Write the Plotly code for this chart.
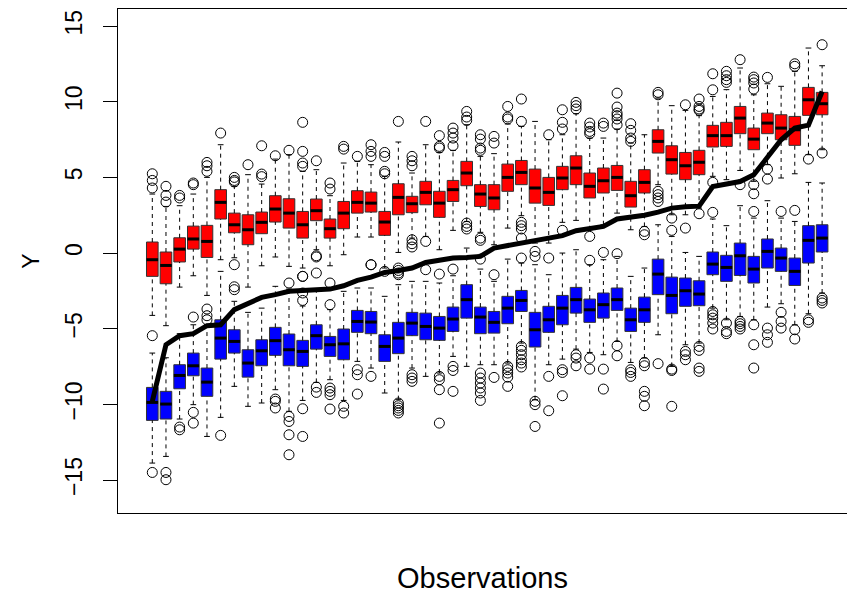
import plotly.graph_objects as go

# Sorted observed values (thick black line), one per observation
observed = [-9.80, -6.06, -5.46, -5.33, -4.80, -4.74, -3.74, -3.30, -2.93, -2.75,
            -2.53, -2.47, -2.42, -2.38, -2.16, -1.81, -1.59, -1.28, -1.15, -0.99,
            -0.62, -0.44, -0.33, -0.29, -0.22, 0.33, 0.48, 0.62, 0.77, 0.99,
            1.15, 1.48, 1.59, 1.76, 2.25, 2.36, 2.50, 2.70, 2.97, 3.06,
            3.10, 4.40, 4.56, 4.73, 5.17, 6.28, 7.49, 8.26, 8.45, 10.68]

# Upper (red) boxplots: whisker ends, quartiles, medians, outliers
red_lo = [-4.12, -4.80, -2.25, -1.50, -2.80, -0.44, -0.31, -2.25, -0.84, -0.26,
          -0.88, -0.99, 0.22, -0.84, -0.11, 1.06, 1.06, -0.99, 0.04, 0.99,
          1.10, 0.22, 1.50, 2.09, 1.37, 0.55, 1.65, 2.47, 0.66, 0.66,
          2.03, 2.16, 1.54, 1.87, 2.64, 1.54, 1.76, 4.52, 2.53, 2.53,
          2.97, 5.07, 4.85, 5.46, 4.74, 5.84, 4.96, 5.24, 6.50, 6.83]
red_q1 = [-1.54, -2.03, -0.59, 0.26, -0.29, 2.25, 1.34, 0.55, 1.28, 2.05,
          1.65, 0.99, 2.14, 0.99, 1.61, 2.64, 2.71, 1.17, 2.53, 2.67,
          3.19, 2.36, 3.41, 4.45, 3.08, 2.86, 4.08, 4.52, 3.30, 3.15,
          4.19, 4.52, 3.64, 3.97, 4.14, 3.04, 3.97, 6.61, 5.22, 4.85,
          5.18, 7.01, 7.05, 7.89, 6.83, 7.89, 7.49, 7.12, 9.10, 9.14]
red_med = [-0.44, -0.82, 0.26, 0.93, 0.77, 3.35, 1.87, 1.54, 2.03, 2.91,
           2.64, 1.87, 2.80, 1.61, 2.64, 3.35, 3.30, 2.05, 3.68, 3.26,
           4.01, 3.30, 4.19, 5.29, 3.90, 3.64, 5.00, 5.33, 4.30, 4.01,
           4.96, 5.62, 4.41, 4.78, 5.00, 3.79, 4.67, 7.38, 6.17, 5.77,
           6.00, 7.76, 7.76, 8.92, 7.53, 8.59, 8.26, 8.15, 10.13, 9.87]
red_q3 = [0.73, 0.07, 1.01, 1.78, 1.83, 4.19, 2.64, 2.53, 2.71, 3.79,
          3.59, 2.75, 3.57, 2.25, 3.41, 4.12, 4.03, 2.75, 4.58, 3.75,
          4.74, 4.08, 4.80, 6.06, 4.52, 4.52, 5.88, 6.12, 5.55, 5.00,
          5.73, 6.43, 5.29, 5.62, 5.79, 4.74, 5.51, 8.15, 7.09, 6.65,
          6.79, 8.44, 8.64, 9.69, 8.26, 9.25, 9.14, 9.03, 10.95, 10.62]
red_hi = [3.90, 3.08, 3.13, 3.90, 5.00, 7.16, 4.41, 5.18, 4.56, 6.21,
          6.50, 5.40, 5.51, 3.79, 5.95, 6.06, 5.84, 5.07, 7.34, 5.29,
          7.16, 6.65, 6.79, 8.48, 6.39, 6.57, 8.53, 8.37, 8.70, 7.49,
          7.82, 9.21, 7.60, 7.60, 8.20, 7.27, 7.82, 10.24, 9.74, 9.43,
          9.08, 10.35, 10.80, 12.23, 10.46, 11.19, 11.02, 12.01, 13.55, 12.38]
red_out = [[4.30, 4.80, 5.24], [3.37, 3.81, 4.41], [3.64, 3.81], [4.52, 4.63],
           [5.40, 5.77, 5.99], [7.93], [-0.77, 4.70, 4.80, 5.00], [5.84],
           [5.05, 5.22, 7.09], [6.43], [6.79], [-1.54, 5.73, 5.95, 6.72, 8.64],
           [-1.32, -0.26, -0.18, 6.10], [-1.98, 4.23, 4.63], [6.87, 7.05], [6.39],
           [-0.77, 6.39, 6.72, 7.16], [-1.21, 5.24, 5.40, 6.39, 6.65],
           [-1.43, -1.15, 8.70], [0.40, 0.62, 0.88, 5.77, 6.10, 6.39], [0.77, 8.70],
           [6.94, 7.05, 7.76], [7.09, 7.60, 7.93, 8.26], [8.77, 8.99, 9.36],
           [0.84, 0.99, 6.79, 6.94, 7.53, 7.82], [7.27, 7.71], [8.86, 8.99, 9.69],
           [0.99, 1.59, 1.81, 2.03, 8.70, 10.18], [], [7.82], [1.50, 8.20, 8.64, 9.47],
           [9.52, 9.74, 9.96], [1.10, 7.89, 8.04, 8.33, 8.59], [8.37, 8.59],
           [8.48, 8.86, 9.08, 9.25, 9.65, 10.57], [7.38, 7.60, 8.11, 8.55], [1.21, 1.43],
           [3.41, 3.64, 3.86, 4.08, 10.46, 10.62], [2.31], [1.65, 9.80],
           [2.60, 9.43, 9.52, 9.69, 10.18], [4.67, 10.79, 11.85],
           [11.28, 11.46, 11.72, 12.01], [4.52, 12.78],
           [3.92, 4.52, 10.84, 11.24, 11.46, 11.63], [4.89, 5.55, 11.61], [],
           [12.34, 12.51], [6.21], [6.61, 13.77]]

# Lower (blue) boxplots
blue_lo = [-13.88, -13.44, -10.97, -10.02, -12.12, -10.86, -8.81, -10.13, -9.91, -9.03,
           -10.46, -9.74, -8.55, -8.37, -9.74, -7.16, -7.60, -9.25, -9.69, -7.60,
           -8.15, -7.93, -6.83, -7.49, -7.38, -7.38, -7.27, -5.95, -9.69, -7.38,
           -7.01, -6.35, -6.57, -6.72, -5.84, -7.23, -6.94, -5.40, -7.49, -6.06,
           -5.95, -3.64, -4.41, -4.19, -4.41, -3.57, -3.35, -4.74, -4.01, -2.64]
blue_q1 = [-11.06, -10.97, -8.97, -8.11, -9.47, -7.01, -6.61, -8.20, -7.45, -6.76,
           -7.45, -7.49, -6.35, -6.83, -7.05, -5.24, -5.33, -7.16, -6.65, -5.46,
           -5.73, -5.77, -5.18, -4.30, -5.33, -5.29, -4.67, -3.86, -6.21, -5.24,
           -4.74, -3.97, -4.58, -4.30, -3.79, -5.18, -4.58, -2.75, -4.01, -3.52,
           -3.48, -1.43, -1.87, -1.48, -1.98, -0.99, -1.21, -2.14, -0.66, 0.07]
blue_med = [-9.87, -9.98, -8.09, -7.45, -8.53, -5.62, -5.84, -7.27, -6.46, -5.79,
            -6.39, -6.50, -5.46, -6.06, -6.00, -4.52, -4.56, -6.17, -5.62, -4.63,
            -4.85, -4.96, -4.36, -3.08, -4.23, -4.58, -3.64, -3.13, -5.07, -4.41,
            -3.64, -3.08, -3.75, -3.41, -3.08, -4.41, -3.75, -1.39, -2.80, -2.49,
            -2.71, -0.73, -0.95, -0.18, -1.06, 0.11, -0.33, -1.21, 0.84, 0.99]
blue_q3 = [-8.88, -9.14, -7.38, -6.61, -7.60, -4.41, -5.07, -6.39, -5.73, -4.91,
           -5.35, -5.77, -4.74, -5.51, -5.02, -3.79, -3.86, -5.40, -4.58, -3.92,
           -3.97, -4.19, -3.57, -2.09, -3.57, -3.86, -2.86, -2.47, -3.92, -3.52,
           -2.80, -2.27, -3.04, -2.64, -2.31, -3.64, -2.91, -0.40, -1.59, -1.65,
           -1.83, 0.07, -0.15, 0.66, -0.22, 0.93, 0.33, -0.33, 1.81, 1.87]
blue_hi = [-6.61, -6.92, -5.33, -4.74, -4.74, -1.21, -3.19, -3.92, -3.64, -2.20,
           -2.38, -3.50, -2.50, -3.74, -2.53, -2.31, -2.31, -2.86, -2.09, -1.87,
           -1.87, -1.98, -1.50, 0.33, -1.06, -1.87, -0.40, -0.66, -0.77, -1.43,
           0.00, 0.22, -0.77, -0.44, -0.22, -1.54, -0.99, 1.87, 1.10, 0.04,
           -0.22, 2.25, 1.81, 3.13, 2.31, 3.46, 2.31, 2.09, 4.67, 4.63]
blue_out = [[-14.50, -5.46], [-14.98, -14.50], [-11.68, -11.50], [-11.24, -10.53, -4.23],
            [-4.41, -4.14, -3.70], [-12.05], [-2.42, -2.23], [], [],
            [-10.24, -9.80, -9.65], [-13.33, -12.01, -11.13, -10.80, -1.98],
            [-12.12, -10.29, -3.13, -2.64, -1.54], [-9.21, -8.86],
            [-10.31, -9.36, -9.14, -8.92, -3.41], [-10.57, -10.13], [-9.32, -8.04, -7.71],
            [-8.15, -0.77], [], [-10.57, -10.40, -10.24, -10.09, -9.91, -1.32, -0.99],
            [-8.48, -8.26, -8.04], [-1.10], [-11.24, -9.03, -8.37, -8.15, -1.39],
            [-9.14, -7.76, -7.49, -1.06], [1.59, 1.76, 1.98],
            [-9.74, -9.25, -8.92, -8.59, -8.26, -7.93, -0.40], [-8.22, -1.43],
            [-8.81, -8.20, -7.93, -7.71, -7.49],
            [-7.53, -7.27, -7.05, -6.72, -6.43, -6.17, -0.33],
            [-11.46, -10.02, -9.80, -0.22, 0.11], [-10.42, -8.15, -0.33],
            [-9.43, -7.89, -7.71], [-7.45, -6.94, -6.72], [-7.67, -6.94, -0.48],
            [-8.99, -7.67, 0.04], [-6.79, -6.12, -0.04], [-8.15, -7.89, -7.71],
            [-10.09, -9.47, -9.14, -7.45, -7.23], [-7.31], [-10.13, -7.76, -7.67, 1.50],
            [-7.05, -6.72, -6.50], [-7.82, -7.60, -6.43, -6.17],
            [-5.02, -4.63, -4.30, -4.08, -3.86, 2.69], [-5.33, -5.18, -4.63],
            [-5.02, -4.85, -4.67, -4.52], [-7.60, -6.06, -4.74, 2.75], [-5.90, -5.40, -4.96],
            [-4.96, -4.52, -3.92, 2.75], [-5.68, -5.07, 2.82], [-4.58, -4.41],
            [-3.30, -3.13, -2.97]]

y_ticks = [-15, -10, -5, 0, 5, 10, 15]

pos = list(range(1, len(observed) + 1))
BOX_W = 0.85   # box width in observation units
CAP_W = 0.21   # half-width of whisker caps
FONT = "Liberation Sans, Arial, Helvetica, sans-serif"

fig = go.Figure()


def add_boxes(lo, q1, med, q3, hi, out, fill):
    # dashed whiskers from box edges to the whisker ends
    wx, wy = [], []
    for x, a, b, c, d in zip(pos, lo, q1, q3, hi):
        wx += [x, x, None, x, x, None]
        wy += [a, b, None, c, d, None]
    fig.add_trace(go.Scatter(x=wx, y=wy, mode="lines", hoverinfo="skip",
                             line=dict(color="black", width=1, dash="4px,4px")))
    # solid staple caps
    cx, cy = [], []
    for x, a, d in zip(pos, lo, hi):
        cx += [x - CAP_W, x + CAP_W, None, x - CAP_W, x + CAP_W, None]
        cy += [a, a, None, d, d, None]
    fig.add_trace(go.Scatter(x=cx, y=cy, mode="lines", hoverinfo="skip",
                             line=dict(color="black", width=1)))
    # interquartile boxes
    fig.add_trace(go.Bar(x=pos, y=[c - b for b, c in zip(q1, q3)], base=q1,
                         width=BOX_W, hoverinfo="skip",
                         marker=dict(color=fill, line=dict(color="#333333", width=1))))
    # medians
    mx, my = [], []
    for x, m in zip(pos, med):
        mx += [x - BOX_W / 2, x + BOX_W / 2, None]
        my += [m, m, None]
    fig.add_trace(go.Scatter(x=mx, y=my, mode="lines", hoverinfo="skip",
                             line=dict(color="black", width=3)))
    # outlying points
    ox, oy = [], []
    for x, pts in zip(pos, out):
        ox += [x] * len(pts)
        oy += pts
    fig.add_trace(go.Scatter(x=ox, y=oy, mode="markers", hoverinfo="skip",
                             marker=dict(symbol="circle-open", size=10, color="black",
                                         line=dict(width=1, color="black"))))


add_boxes(red_lo, red_q1, red_med, red_q3, red_hi, red_out, "#ff0000")
add_boxes(blue_lo, blue_q1, blue_med, blue_q3, blue_hi, blue_out, "#0000ff")

# sorted observations
fig.add_trace(go.Scatter(x=pos, y=observed, mode="lines", hoverinfo="skip",
                         line=dict(color="black", width=5)))

fig.update_layout(
    width=847, height=594,
    margin=dict(l=118, r=0, t=9, b=81, pad=0),
    paper_bgcolor="white", plot_bgcolor="white",
    showlegend=False, barmode="overlay",
    font=dict(family=FONT, color="black"),
    xaxis=dict(range=[-1.509, 51.82], showgrid=False, zeroline=False,
               showticklabels=False, ticks="", showline=True, mirror=True,
               linecolor="black", linewidth=1, automargin=False,
               title=dict(text="Observations", font=dict(size=29), standoff=58)),
    yaxis=dict(range=[-17.18, 16.13], showgrid=False, zeroline=False,
               tickvals=y_ticks, ticktext=[str(v).replace("-", "\u2212") for v in y_ticks],
               ticks="outside", ticklen=14, tickwidth=1, tickcolor="black",
               tickangle=-90, tickfont=dict(size=23), ticklabelstandoff=12,
               showline=True, linecolor="black", linewidth=1, automargin=False,
               title=dict(text="Y", font=dict(size=23), standoff=14)),
)

fig.write_html("out.html")
